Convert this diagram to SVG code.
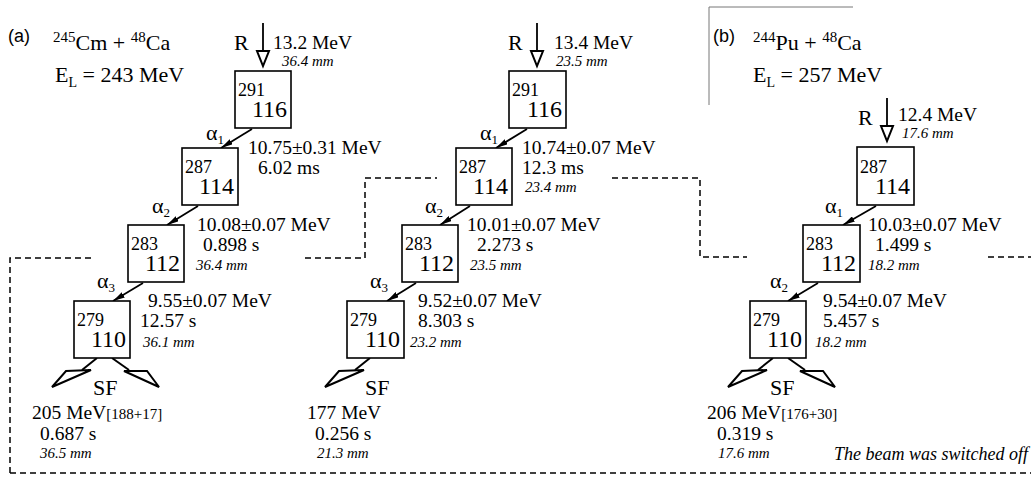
<svg xmlns="http://www.w3.org/2000/svg" width="1031" height="484" viewBox="0 0 1031 484" font-family="'Liberation Serif','Times New Roman',serif">
<style>
text{font-family:"Liberation Serif","Times New Roman",serif;fill:#000}
.v{font-size:19.5px}
.mm{font-size:15px;font-style:italic}
.box{fill:#fff;stroke:#000;stroke-width:1.6}
.A{font-size:18px}
.Z{font-size:24px;text-anchor:end}
.al{font-size:22px}
.sub{font-size:13px}
.t{font-size:22px}
.lab{font-family:"Liberation Sans",Arial,sans-serif;font-size:18px}
.R{font-size:22px}
.ln{stroke:#000;stroke-width:1.8;fill:none}
.fk{stroke:#000;stroke-width:2;fill:none;stroke-linejoin:miter}
.dash{stroke:#000;stroke-width:1.5;fill:none;stroke-dasharray:6 4}
.tri{fill:#fff;stroke:#000;stroke-width:2}
</style>
<defs>
<marker id="ah" viewBox="0 0 12 6" refX="12" refY="3" markerWidth="12" markerHeight="6" markerUnits="userSpaceOnUse" orient="auto">
<path d="M0,0 L12,3 L0,6 Z" fill="#000"/>
</marker>
<g id="forkL"><path class="fk" d="M23,0 L8,12"/><path class="fk" d="M-22,29 L-8,13 L17,12 Z"/></g>
<g id="forkR"><path class="fk" d="M38,0 L55,12"/><path class="fk" d="M85,29 L73,13 L50,13 Z"/></g>
<g id="rarrow"><path class="ln" d="M0,0 L0,28"/><path class="tri" d="M-6,28 L6,28 L0,43 Z"/></g>
</defs>

<g id="connectors">
<path class="dash" d="M10,473 L10,258 L95,258 M305,258 L365,258 L365,178 L437,178 M612,178 L700,178 L700,257 L747,257 M988,257 L1031,257 M10,473 L1031,473"/>
<path d="M709,105 L709,7 L853,7" stroke="#777" stroke-width="1" fill="none"/>
<use href="#rarrow" x="263" y="23"/>
<use href="#rarrow" x="537" y="23"/>
<use href="#rarrow" x="887" y="98"/>
<path class="ln" marker-end="url(#ah)" d="M252,129 L221,148"/>
<path class="ln" marker-end="url(#ah)" d="M198,206 L167,225"/>
<path class="ln" marker-end="url(#ah)" d="M143,283 L113,301"/>
<path class="ln" marker-end="url(#ah)" d="M527,129 L496,148"/>
<path class="ln" marker-end="url(#ah)" d="M470,206 L440,225"/>
<path class="ln" marker-end="url(#ah)" d="M416,283 L387,301"/>
<path class="ln" marker-end="url(#ah)" d="M876,206 L843,225"/>
<path class="ln" marker-end="url(#ah)" d="M818,283 L788,301"/>
<use href="#forkL" x="74" y="358"/>
<use href="#forkR" x="74" y="358"/>
<use href="#forkL" x="347" y="358"/>
<use href="#forkL" x="750" y="358"/>
<use href="#forkR" x="750" y="358"/>
</g>

<g id="header-a">
<text class="lab" x="8" y="42">(a)</text>
<text class="t" x="53" y="50" font-size="23"><tspan font-size="15" dy="-8">245</tspan><tspan dy="8">Cm + </tspan><tspan font-size="15" dy="-8">48</tspan><tspan dy="8">Ca</tspan></text>
<text class="t" x="55" y="82">E<tspan font-size="14" dy="5">L</tspan><tspan dy="-5"> = 243 MeV</tspan></text>
</g>
<g id="header-b">
<text class="lab" x="713" y="42">(b)</text>
<text class="t" x="753" y="50" font-size="23"><tspan font-size="15" dy="-8">244</tspan><tspan dy="8">Pu + </tspan><tspan font-size="15" dy="-8">48</tspan><tspan dy="8">Ca</tspan></text>
<text class="t" x="753" y="82">E<tspan font-size="14" dy="5">L</tspan><tspan dy="-5"> = 257 MeV</tspan></text>
</g>

<g id="a-R"><text class="R" x="234" y="50">R</text><text class="v" x="273" y="49">13.2 MeV</text><text class="mm" x="282" y="66">36.4 mm</text></g>
<g id="a-291"><rect class="box" x="235" y="71" width="56" height="57"/><text class="A" x="238" y="96">291</text><text class="Z" x="287" y="117">116</text></g>
<g id="a-alpha1"><text class="al" x="206" y="140">α<tspan class="sub" dy="4">1</tspan></text><text class="v" x="248" y="154">10.75±0.31 MeV</text><text class="v" x="258" y="174">6.02 ms</text></g>
<g id="a-287"><rect class="box" x="182" y="148" width="56" height="57"/><text class="A" x="185" y="173">287</text><text class="Z" x="234" y="194">114</text></g>
<g id="a-alpha2"><text class="al" x="152" y="213">α<tspan class="sub" dy="4">2</tspan></text><text class="v" x="197" y="231">10.08±0.07 MeV</text><text class="v" x="203" y="251">0.898 s</text><text class="mm" x="196" y="270">36.4 mm</text></g>
<g id="a-283"><rect class="box" x="128" y="225" width="56" height="57"/><text class="A" x="131" y="250">283</text><text class="Z" x="180" y="271">112</text></g>
<g id="a-alpha3"><text class="al" x="97" y="288">α<tspan class="sub" dy="4">3</tspan></text><text class="v" x="148" y="307">9.55±0.07 MeV</text><text class="v" x="140" y="327">12.57 s</text><text class="mm" x="143" y="347">36.1 mm</text></g>
<g id="a-279"><rect class="box" x="74" y="301" width="56" height="57"/><text class="A" x="77" y="326">279</text><text class="Z" x="126" y="347">110</text></g>
<g id="a-SF"><text class="t" x="93" y="395">SF</text><text class="v" x="32" y="419">205 MeV<tspan font-size="15">[188+17]</tspan></text><text class="v" x="40" y="440">0.687 s</text><text class="mm" x="40" y="458">36.5 mm</text></g>

<g id="m-R"><text class="R" x="508" y="50">R</text><text class="v" x="554" y="49">13.4 MeV</text><text class="mm" x="556" y="66">23.5 mm</text></g>
<g id="m-291"><rect class="box" x="509" y="71" width="57" height="57"/><text class="A" x="512" y="96">291</text><text class="Z" x="562" y="117">116</text></g>
<g id="m-alpha1"><text class="al" x="480" y="140">α<tspan class="sub" dy="4">1</tspan></text><text class="v" x="522" y="154">10.74±0.07 MeV</text><text class="v" x="522" y="174">12.3 ms</text></g>
<g id="m-287"><rect class="box" x="456" y="148" width="56" height="57"/><text class="A" x="459" y="173">287</text><text class="Z" x="508" y="194">114</text><text class="mm" x="525" y="192">23.4 mm</text></g>
<g id="m-alpha2"><text class="al" x="425" y="213">α<tspan class="sub" dy="4">2</tspan></text><text class="v" x="467" y="231">10.01±0.07 MeV</text><text class="v" x="477" y="251">2.273 s</text><text class="mm" x="470" y="270">23.5 mm</text></g>
<g id="m-283"><rect class="box" x="402" y="225" width="56" height="57"/><text class="A" x="405" y="250">283</text><text class="Z" x="454" y="271">112</text></g>
<g id="m-alpha3"><text class="al" x="370" y="288">α<tspan class="sub" dy="4">3</tspan></text><text class="v" x="418" y="307">9.52±0.07 MeV</text><text class="v" x="418" y="327">8.303 s</text><text class="mm" x="410" y="347">23.2 mm</text></g>
<g id="m-279"><rect class="box" x="347" y="301" width="57" height="57"/><text class="A" x="350" y="326">279</text><text class="Z" x="400" y="347">110</text></g>
<g id="m-SF"><text class="t" x="365" y="395">SF</text><text class="v" x="307" y="419">177 MeV</text><text class="v" x="315" y="440">0.256 s</text><text class="mm" x="317" y="458">21.3 mm</text></g>

<g id="b-R"><text class="R" x="858" y="125">R</text><text class="v" x="898" y="121">12.4 MeV</text><text class="mm" x="902" y="138">17.6 mm</text></g>
<g id="b-287"><rect class="box" x="857" y="147" width="57" height="58"/><text class="A" x="860" y="173">287</text><text class="Z" x="910" y="194">114</text></g>
<g id="b-alpha1"><text class="al" x="825" y="213">α<tspan class="sub" dy="4">1</tspan></text><text class="v" x="868" y="231">10.03±0.07 MeV</text><text class="v" x="875" y="251">1.499 s</text><text class="mm" x="868" y="270">18.2 mm</text></g>
<g id="b-283"><rect class="box" x="803" y="225" width="57" height="57"/><text class="A" x="806" y="250">283</text><text class="Z" x="856" y="271">112</text></g>
<g id="b-alpha2"><text class="al" x="770" y="288">α<tspan class="sub" dy="4">2</tspan></text><text class="v" x="823" y="307">9.54±0.07 MeV</text><text class="v" x="823" y="327">5.457 s</text><text class="mm" x="815" y="347">18.2 mm</text></g>
<g id="b-279"><rect class="box" x="750" y="301" width="56" height="57"/><text class="A" x="753" y="326">279</text><text class="Z" x="802" y="347">110</text></g>
<g id="b-SF"><text class="t" x="770" y="395">SF</text><text class="v" x="707" y="419">206 MeV<tspan font-size="15">[176+30]</tspan></text><text class="v" x="717" y="440">0.319 s</text><text class="mm" x="718" y="458">17.6 mm</text></g>
<text class="mm" x="1028" y="460" font-size="18" style="font-size:18px" text-anchor="end">The beam was switched off</text>
</svg>
